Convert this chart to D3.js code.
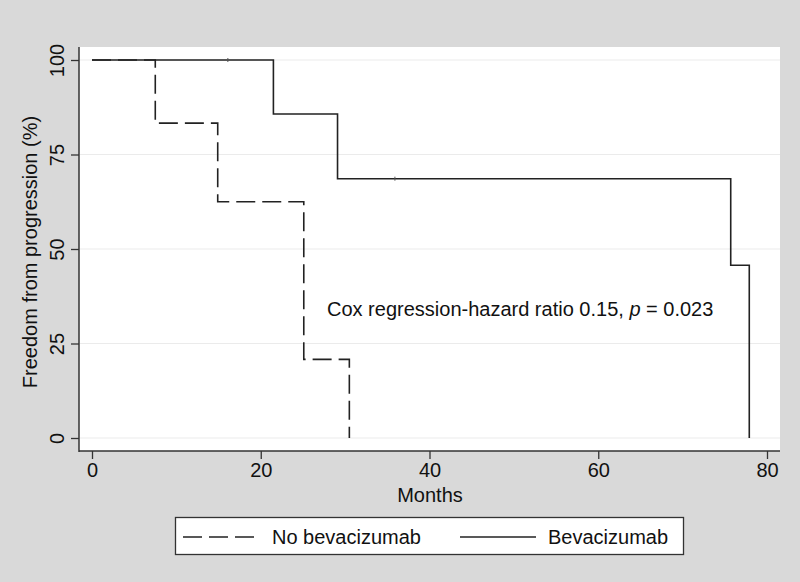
<!DOCTYPE html>
<html><head><meta charset="utf-8">
<script src="https://cdn.jsdelivr.net/npm/d3@7"></script>
<style>
html,body{margin:0;padding:0;background:#d9d9d9;}
svg{display:block;font-family:"Liberation Sans",Arial,Helvetica,sans-serif;}
</style></head>
<body>
<svg id="chart" width="800" height="582"></svg>
<script>
// Kaplan-Meier step data (months, % free from progression)
const noBevTimes = [0, 7.5, 14.9, 25.1, 30.5];
const noBevValues = [100, 83.3, 62.5, 20.8, 0];
const bevTimes = [0, 21.5, 29.1, 75.7, 77.9];
const bevValues = [100, 85.7, 68.6, 45.7, 0];
const bevCensorTimes = [16.1, 35.9];
const bevCensorValues = [100, 68.6];
const xTicks = [0, 20, 40, 60, 80];
const yTicks = [0, 25, 50, 75, 100];
const legendLabels = ["No bevacizumab", "Bevacizumab"];

const svg = d3.select("#chart");
const plot = {left: 79, top: 47, right: 780, bottom: 451};
const FS = 20;

const x = d3.scaleLinear().domain([0, 80]).range([92, 767]);
const y = d3.scaleLinear().domain([0, 100]).range([438, 60]);

svg.append("rect").attr("x", plot.left).attr("y", plot.top)
  .attr("width", plot.right - plot.left).attr("height", plot.bottom - plot.top)
  .attr("fill", "#fff");

// gridlines
svg.append("g").selectAll("line").data(yTicks).join("line")
  .attr("x1", plot.left + 1).attr("x2", plot.right)
  .attr("y1", d => y(d)).attr("y2", d => y(d))
  .attr("stroke", "#ebebeb").attr("stroke-width", 1.2);

// axes
const yAxis = svg.append("g").attr("transform", `translate(${plot.left},0)`)
  .call(d3.axisLeft(y).tickValues(yTicks).tickSize(8).tickPadding(6).tickSizeOuter(0));
yAxis.select(".domain").remove();
yAxis.append("line").attr("x1", 0).attr("x2", 0).attr("y1", plot.top).attr("y2", plot.bottom + 1)
  .attr("stroke", "#333").attr("stroke-width", 1.5);
yAxis.selectAll(".tick line").attr("stroke", "#333").attr("stroke-width", 1.3);
yAxis.selectAll(".tick text")
  .attr("fill", "#111").attr("font-size", FS)
  .attr("text-anchor", "middle")
  .attr("x", 0).attr("dy", 0)
  .attr("transform", "translate(-22,0) rotate(-90)")
  .attr("dominant-baseline", "central");

const xAxis = svg.append("g").attr("transform", `translate(0,${plot.bottom})`)
  .call(d3.axisBottom(x).tickValues(xTicks).tickSize(8).tickPadding(4).tickSizeOuter(0));
xAxis.select(".domain").remove();
xAxis.append("line").attr("x1", plot.left).attr("x2", plot.right).attr("y1", 0).attr("y2", 0)
  .attr("stroke", "#333").attr("stroke-width", 1.5);
xAxis.selectAll(".tick line").attr("stroke", "#333").attr("stroke-width", 1.3);
xAxis.selectAll(".tick text").attr("fill", "#111").attr("font-size", FS);

// axis titles
svg.append("text").attr("x", 430).attr("y", 502).attr("text-anchor", "middle")
  .attr("font-size", FS).attr("fill", "#111").text("Months");
svg.append("text").attr("transform", "translate(37,252) rotate(-90)").attr("text-anchor", "middle")
  .attr("font-size", FS).attr("fill", "#111").text("Freedom from progression (%)");

// step lines
const line = d3.line().x(d => x(d[0])).y(d => y(d[1])).curve(d3.curveStepAfter);

const noBevPts = noBevTimes.map((t, i) => [t, noBevValues[i]]);
svg.append("path").datum(noBevPts).attr("d", line)
  .attr("fill", "none").attr("stroke", "#222").attr("stroke-width", 1.6)
  .attr("stroke-dasharray", "19,7");

const bevPts = bevTimes.map((t, i) => [t, bevValues[i]]);
svg.append("path").datum(bevPts).attr("d", line)
  .attr("fill", "none").attr("stroke", "#222").attr("stroke-width", 1.6);

// censor marks
svg.append("g").selectAll("line").data(bevCensorTimes).join("line")
  .attr("x1", d => x(d)).attr("x2", d => x(d))
  .attr("y1", (d, i) => y(bevCensorValues[i]) - 2).attr("y2", (d, i) => y(bevCensorValues[i]) + 2)
  .attr("stroke", "#555").attr("stroke-width", 1);

// annotation
const ann = svg.append("text").attr("x", 327).attr("y", 316).attr("font-size", FS).attr("fill", "#111");
ann.append("tspan").text("Cox regression-hazard ratio 0.15, ");
ann.append("tspan").attr("font-style", "italic").text("p");
ann.append("tspan").text(" = 0.023");

// legend
const lg = svg.append("g");
lg.append("rect").attr("x", 175.5).attr("y", 517.5).attr("width", 508).attr("height", 37)
  .attr("fill", "#fff").attr("stroke", "#333").attr("stroke-width", 1.3);
lg.append("line").attr("x1", 183).attr("x2", 260).attr("y1", 537).attr("y2", 537)
  .attr("stroke", "#222").attr("stroke-width", 1.6).attr("stroke-dasharray", "19,7");
lg.append("text").attr("x", 272).attr("y", 544).attr("font-size", FS).attr("fill", "#111").text(legendLabels[0]);
lg.append("line").attr("x1", 460).attr("x2", 536).attr("y1", 537).attr("y2", 537)
  .attr("stroke", "#222").attr("stroke-width", 1.6);
lg.append("text").attr("x", 548).attr("y", 544).attr("font-size", FS).attr("fill", "#111").text(legendLabels[1]);
</script>
</body></html>
